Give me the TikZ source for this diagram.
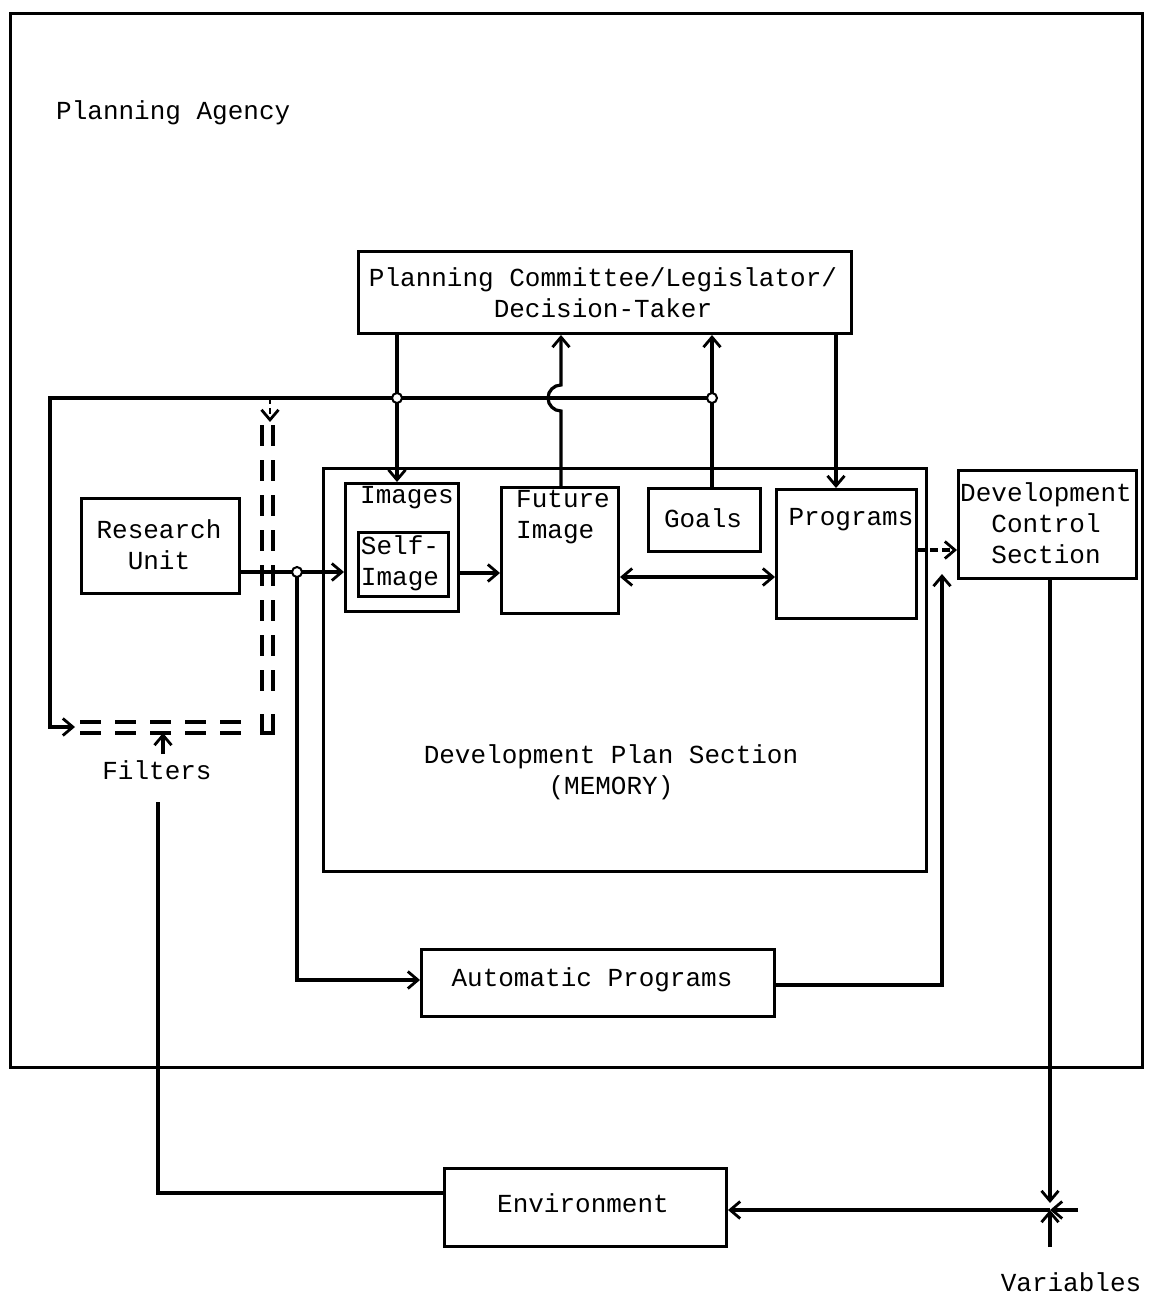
\documentclass[tikz,border=0pt]{standalone}
\usepackage{fontspec}
\setmainfont{Liberation Mono}
\usetikzlibrary{arrows.meta}
\begin{document}
\begin{tikzpicture}[x=1pt,y=-1pt,
  every node/.style={font=\fontsize{26}{31}\selectfont, inner sep=0pt},
  box/.style={draw, line width=3pt, anchor=north west},
  txt/.style={align=center},
  wire/.style={line width=3.2pt},
  tip/.style={wire, -{Straight Barb[length=10pt,width=17pt,line width=2.8pt]}},
  dtip/.style={wire, {Straight Barb[length=10pt,width=17pt,line width=2.8pt]}-{Straight Barb[length=10pt,width=17pt,line width=2.8pt]}},
  junc/.style={draw, circle, minimum size=10pt, line width=2pt, fill=white},
  filt/.style={line width=3.2pt, dash pattern=on 21pt off 14pt}
]
\useasboundingbox (0,0) rectangle (1149,1297);

% agency frame
\node[box, minimum width=1132pt, minimum height=1054pt] (agency) at (9,12) {};
\node[anchor=west] (agencylbl) at (56,113) {Planning Agency};

% boxes
\node[box, minimum width=493pt, minimum height=82pt] (pc) at (357,250) {};
\node[txt] (pctxt) at (603,293) {Planning Committee/Legislator/\\Decision-Taker};

\node[box, minimum width=603pt, minimum height=403pt] (dps) at (322,467) {};
\node[txt] (dpstxt) at (611,772) {Development Plan Section\\(MEMORY)};

\node[box, minimum width=113pt, minimum height=128pt] (images) at (344,482) {};
\node (imgtxt) at (407,498) {Images};
\node[box, line width=2.6pt, minimum width=90pt, minimum height=64pt] (self) at (357,531) {};
\node[txt, align=left] (selftxt) at (400,563) {Self-\\Image};

\node[box, minimum width=117pt, minimum height=126pt] (fut) at (500,486) {};
\node[txt, align=left] (futtxt) at (563,517) {Future\\Image};

\node[box, minimum width=112pt, minimum height=63pt] (goals) at (647,487) {};
\node (goalstxt) at (703,518) {Goals};

\node[box, minimum width=140pt, minimum height=129pt] (prog) at (775,488) {};
\node (progtxt) at (851,520) {Programs};

\node[box, minimum width=178pt, minimum height=108pt] (dcs) at (957,469) {};
\node[txt] (dcstxt) at (1046,523) {Development\\Control\\Section};

\node[box, minimum width=158pt, minimum height=95pt] (ru) at (80,497) {};
\node[txt] (rutxt) at (159,545) {Research\\Unit};

\node[box, minimum width=353pt, minimum height=67pt] (auto) at (420,948) {};
\node (autotxt) at (592,980) {Automatic Programs};

\node[box, minimum width=282pt, minimum height=78pt] (env) at (443,1167) {};
\node (envtxt) at (583,1203) {Environment};

\node (filtxt) at (157,770) {Filters};
\node (vartxt) at (1071,1282) {Variables};

% named points of the wiring
\coordinate (fbL) at (50,398);
\coordinate (fbIn) at (75,727);
\coordinate (dtop) at (270,398);
\coordinate (dend) at (270,422);
\coordinate (split) at (297,572);
\coordinate (apCorner) at (297,980);
\coordinate (acR) at (942,985);
\coordinate (acTip) at (942,574);
\coordinate (mix) at (1050,1210);
\coordinate (varR) at (1078,1210);
\coordinate (varB) at (1050,1247);
\coordinate (envL) at (158,1193);
\coordinate (filEnd) at (158,802);
\coordinate (filTip) at (163,733);
\coordinate (filBase) at (163,754);

% committee links
\draw[tip] (pc.south west -| 397,0) -- (images.north -| 397,0);
\draw[tip] (fut.north -| 561,0) -- (561,411) arc[start angle=90, end angle=270, radius=13] -- (pc.south -| 561,0);
\draw[tip] (goals.north -| 712,0) -- (pc.south -| 712,0);
\draw[tip] (pc.south -| 836,0) -- (prog.north -| 836,0);

% feedback loop to the filters
\draw[wire] (712,398) -- (fbL) -- (50,727);
\draw[tip] (48,727) -- (fbIn);
\draw[tip, line width=2.2pt, dash pattern=on 6pt off 4pt] (dtop) -- (dend);
\node[junc] (j1) at (397,398) {};
\node[junc] (j2) at (712,398) {};

% filter channel
\draw[filt] (80,722) -- (252,722);
\draw[filt] (80,733) -- (252,733);
\draw[filt] (262,425) -- (262,705);
\draw[filt] (273,425) -- (273,705);
\draw[line width=3.2pt] (262,714) -- (262,733) -- (273,733) -- (273,714);
\draw[tip] (filBase) -- (filTip);

% research unit to images and automatic programs
\draw[tip] (ru.east |- split) -- (images.west |- split);
\draw[tip] (split) -- (apCorner) -- (auto.west |- apCorner);
\node[junc] (j3) at (split) {};

% within memory
\draw[tip] (images.east |- 0,573) -- (fut.west |- 0,573);
\draw[dtip] (fut.east |- 0,577) -- (prog.west |- 0,577);
\draw[tip, dash pattern=on 8pt off 4pt] (prog.east |- 0,550) -- (dcs.west |- 0,550);
\draw[tip] (auto.east |- acR) -- (acR) -- (acTip);

% control to environment
\draw[tip] (dcs.south -| mix) -- (1050,1203);
\draw[tip] (varR) -- (mix);
\draw[tip] (varB) -- (mix);
\draw[tip] (mix) -- (env.east |- mix);
\draw[wire] (env.west |- envL) -- (envL) -- (filEnd);
\end{tikzpicture}
\end{document}
